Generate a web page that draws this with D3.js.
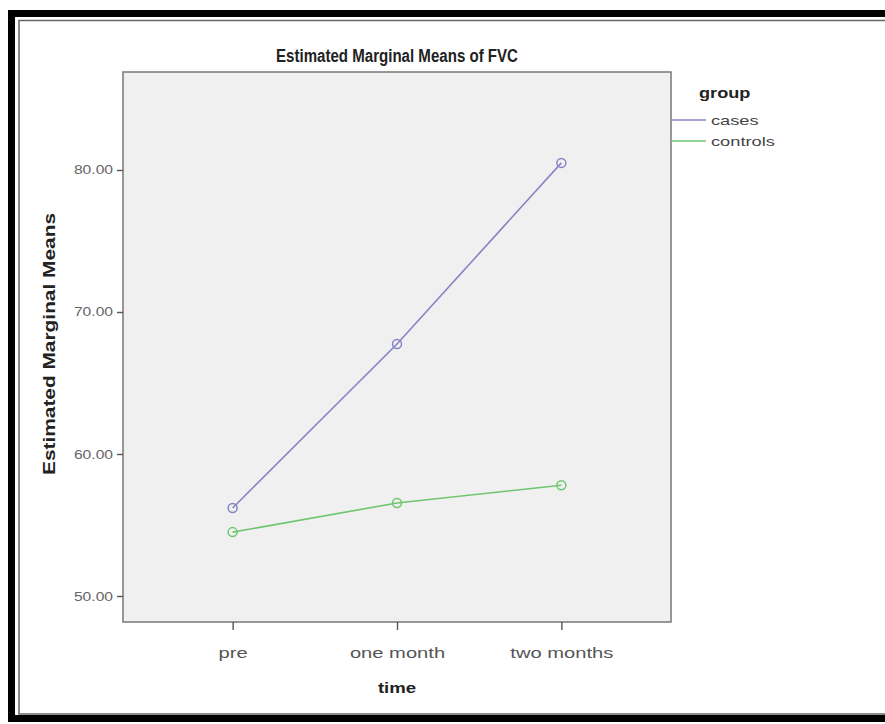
<!DOCTYPE html>
<html>
<head>
<meta charset="utf-8">
<script src="https://cdn.jsdelivr.net/npm/d3@7"></script>
<style>
  body { margin: 0; background: #fff; }
  svg { display: block; font-family: "Liberation Sans", Arial, sans-serif; }
</style>
</head>
<body>
<div class="first"></div>
<script>
// values
const times = ['pre', 'one month', 'two months'];
const groups = ['cases', 'controls'];
const cases = [56.2, 67.75, 80.5];
const controls = [54.5, 56.55, 57.8];
const yTicks = [50, 60, 70, 80];
const colors = ['#8584c4', '#6fc66f'];

const width = 885;
const height = 724;
const margin = { top: 72, left: 123, right: 214, bottom: 102 };

// the source picture is stretched sideways, so widen text to match
function stretch(sel, f) {
  sel.each(function() {
    const w = this.getComputedTextLength();
    d3.select(this).attr('textLength', w * f).attr('lengthAdjust', 'spacingAndGlyphs');
  });
}

const svg = d3.select('.first').append('svg')
  .attr('width', width)
  .attr('height', height);

// picture frame
svg.append('rect')
  .attr('x', 11.5).attr('y', 13.5)
  .attr('width', 890).attr('height', 705)
  .attr('fill', 'none').attr('stroke', '#000').attr('stroke-width', 7);
svg.append('rect')
  .attr('x', 19).attr('y', 20.5)
  .attr('width', 880).attr('height', 693.5)
  .attr('fill', 'none').attr('stroke', '#666').attr('stroke-width', 1.5);

const x = d3.scalePoint()
  .domain(times)
  .range([margin.left, width - margin.right])
  .padding(0.667);

const y = d3.scaleLinear()
  .domain([48.17, 86.9])
  .range([height - margin.bottom, margin.top]);

svg.append('rect')
  .attr('x', margin.left).attr('y', margin.top)
  .attr('width', width - margin.left - margin.right)
  .attr('height', height - margin.top - margin.bottom)
  .attr('fill', '#f0f0f0')
  .attr('stroke', '#777').attr('stroke-width', 1.5);

const xAxis = svg.append('g')
  .attr('transform', `translate(0,${height - margin.bottom})`)
  .call(d3.axisBottom(x).tickSize(8).tickPadding(17));
xAxis.select('.domain').remove();
xAxis.selectAll('line').attr('stroke', '#555').attr('stroke-width', 1.4);
xAxis.selectAll('text').attr('font-size', 15.5).attr('fill', '#555').call(stretch, 1.3);

const yAxis = svg.append('g')
  .attr('transform', `translate(${margin.left},0)`)
  .call(d3.axisLeft(y).tickValues(yTicks).tickFormat(d3.format('.2f')).tickSize(6).tickPadding(4));
yAxis.select('.domain').remove();
yAxis.selectAll('line').attr('stroke', '#555').attr('stroke-width', 1.4);
yAxis.selectAll('text').attr('font-size', 12.5).attr('fill', '#666').call(stretch, 1.25);

svg.append('text')
  .attr('x', (margin.left + width - margin.right) / 2)
  .attr('y', 62)
  .attr('text-anchor', 'middle')
  .attr('font-size', 18).attr('font-weight', 'bold').attr('fill', '#222')
  .attr('textLength', 242).attr('lengthAdjust', 'spacingAndGlyphs')
  .text('Estimated Marginal Means of FVC');

svg.append('text')
  .attr('x', (margin.left + width - margin.right) / 2)
  .attr('y', 693)
  .attr('text-anchor', 'middle')
  .attr('font-size', 15.5).attr('font-weight', 'bold').attr('fill', '#222')
  .text('time')
  .call(stretch, 1.2);

svg.append('text')
  .attr('transform', `translate(55,${(margin.top + height - margin.bottom) / 2 - 3}) rotate(-90)`)
  .attr('text-anchor', 'middle')
  .attr('font-size', 16.5).attr('font-weight', 'bold').attr('fill', '#222')
  .attr('textLength', 262).attr('lengthAdjust', 'spacingAndGlyphs')
  .text('Estimated Marginal Means');

const series = [cases, controls];
const line = d3.line().x((d, i) => x(times[i])).y(d => y(d));

series.forEach((vals, k) => {
  svg.append('path')
    .attr('d', line(vals))
    .attr('fill', 'none')
    .attr('stroke', colors[k]).attr('stroke-width', 1.6);
  svg.selectAll(null)
    .data(vals)
    .enter()
    .append('circle')
    .attr('cx', (d, i) => x(times[i]))
    .attr('cy', d => y(d))
    .attr('r', 4.5)
    .attr('fill', 'none')
    .attr('stroke', colors[k]).attr('stroke-width', 1.5);
});

// legend
const lx = width - margin.right;
svg.append('text')
  .attr('x', 699).attr('y', 98)
  .attr('font-size', 14.5).attr('font-weight', 'bold').attr('fill', '#222')
  .text('group')
  .call(stretch, 1.25);
groups.forEach((g, k) => {
  const ly = 120 + k * 21;
  svg.append('line')
    .attr('x1', lx).attr('x2', lx + 35)
    .attr('y1', ly).attr('y2', ly)
    .attr('stroke', colors[k]).attr('stroke-width', 1.5);
  svg.append('text')
    .attr('x', lx + 40).attr('y', ly + 5)
    .attr('font-size', 13.5).attr('fill', '#444')
    .text(g)
    .call(stretch, 1.35);
});
</script>
</body>
</html>
